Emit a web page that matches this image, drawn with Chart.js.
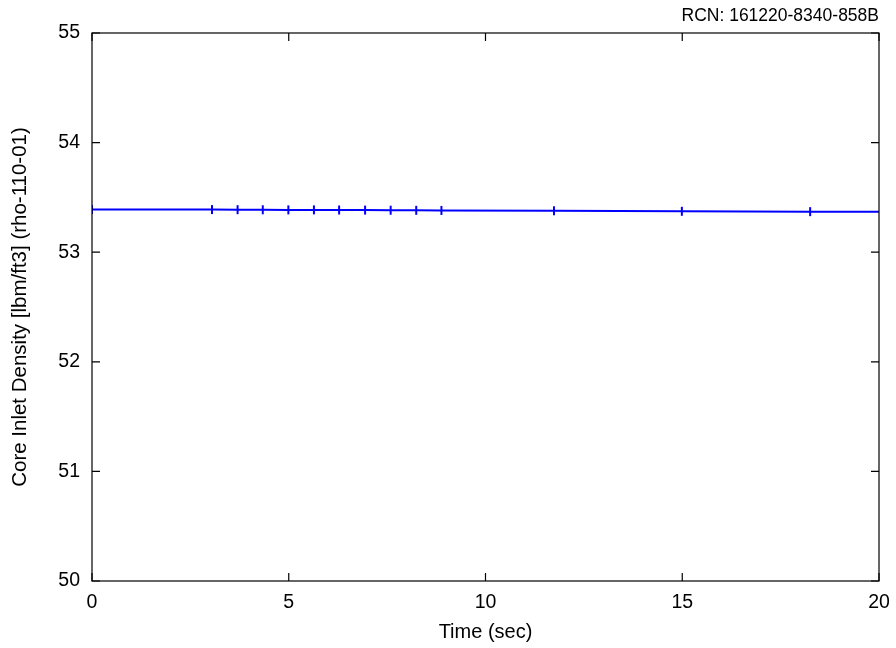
<!DOCTYPE html>
<html>
<head>
<meta charset="utf-8">
<script src="https://cdn.jsdelivr.net/npm/chart.js@4/dist/chart.umd.min.js"></script>
<style>
  html, body { margin: 0; padding: 0; background: #fff; }
  #wrap { width: 896px; height: 648px; }
</style>
</head>
<body>
<div id="wrap"><canvas id="densityChart" width="896" height="648"></canvas></div>
<script>
const timeSec = [0, 3.05, 3.70, 4.34, 4.99, 5.64, 6.28, 6.94, 7.59, 8.24, 8.88, 11.74, 14.99, 18.25, 20];
const density = [53.390, 53.389, 53.388, 53.387, 53.386, 53.386, 53.385, 53.384, 53.383, 53.382, 53.381, 53.378, 53.373, 53.370, 53.369];
const xTicks = [0, 5, 10, 15, 20];
const yTicks = [50, 51, 52, 53, 54, 55];

const fontFamily = "'Liberation Sans', Arial, sans-serif";

// gnuplot style frame with inward ticks on all four sides
const framePlugin = {
    id: 'frame',
    afterDraw(chart) {
        const ctx = chart.ctx;
        const a = chart.chartArea;
        const xs = chart.scales.x;
        const ys = chart.scales.y;
        const len = 8;
        ctx.save();
        ctx.strokeStyle = '#000';
        ctx.lineWidth = 1.2;
        ctx.beginPath();
        xTicks.forEach(v => {
            const px = xs.getPixelForValue(v);
            ctx.moveTo(px, a.bottom); ctx.lineTo(px, a.bottom - len);
            ctx.moveTo(px, a.top); ctx.lineTo(px, a.top + len);
        });
        yTicks.forEach(v => {
            const py = ys.getPixelForValue(v);
            ctx.moveTo(a.left, py); ctx.lineTo(a.left + len, py);
            ctx.moveTo(a.right, py); ctx.lineTo(a.right - len, py);
        });
        ctx.stroke();
        ctx.strokeRect(a.left, a.top, a.right - a.left, a.bottom - a.top);
        ctx.restore();
    }
};

const points = timeSec.map((t, i) => ({ x: t, y: density[i] }));

new Chart(document.getElementById('densityChart'), {
    type: 'line',
    data: {
        datasets: [{
            data: points,
            borderColor: '#0000ff',
            backgroundColor: '#0000ff',
            borderWidth: 2,
            pointStyle: 'line',
            rotation: 90,
            pointRadius: c => (c.dataIndex === timeSec.length - 1 ? 0 : 4.5),
            pointBorderWidth: 2,
            pointBorderColor: '#0000ff',
            fill: false,
            tension: 0
        }]
    },
    options: {
        responsive: false,
        animation: false,
        layout: { padding: { top: 0, right: 17, left: 0, bottom: 0 } },
        plugins: {
            legend: { display: false },
            tooltip: { enabled: false },
            title: {
                display: true,
                text: 'RCN: 161220-8340-858B',
                align: 'end',
                color: '#000',
                font: { family: fontFamily, size: 17.5, weight: 'normal' },
                padding: { top: 6, bottom: 6 }
            }
        },
        scales: {
            x: {
                type: 'linear',
                min: 0,
                max: 20,
                afterBuildTicks: s => { s.ticks = xTicks.map(v => ({ value: v })); },
                afterFit: s => { s.height = 67; s.paddingLeft = 0; s.paddingRight = 0; },
                grid: { display: false, drawTicks: false },
                border: { display: false },
                ticks: {
                    color: '#000',
                    padding: 10,
                    font: { family: fontFamily, size: 19.5 },
                    maxRotation: 0
                },
                title: {
                    display: true,
                    text: 'Time (sec)',
                    color: '#000',
                    font: { family: fontFamily, size: 20 },
                    padding: { top: 0, bottom: 4 }
                }
            },
            y: {
                type: 'linear',
                min: 50,
                max: 55,
                afterBuildTicks: s => { s.ticks = yTicks.map(v => ({ value: v })); },
                afterFit: s => { s.width = 92; s.paddingTop = 0; s.paddingBottom = 0; },
                grid: { display: false, drawTicks: false },
                border: { display: false },
                ticks: {
                    color: '#000',
                    padding: 12,
                    font: { family: fontFamily, size: 19.5 }
                },
                title: {
                    display: true,
                    text: 'Core Inlet Density [lbm/ft3] (rho-110-01)',
                    color: '#000',
                    font: { family: fontFamily, size: 20.5 },
                    padding: { top: 8.5, bottom: 0 }
                }
            }
        }
    },
    plugins: [framePlugin]
});
</script>
</body>
</html>
